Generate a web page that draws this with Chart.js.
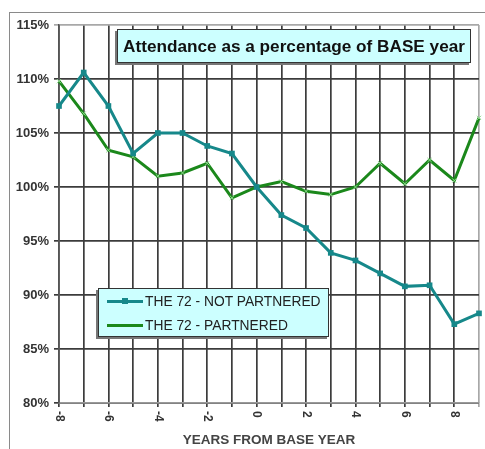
<!DOCTYPE html>
<html lang="en">
<head>
  <meta charset="UTF-8" />
  <title>Attendance vs Base Year</title>
  <script src="https://cdn.jsdelivr.net/npm/chart.js"></script>
  <style>
    body {
      margin: 0;
      padding: 0;
      background: white;
      overflow: hidden;
      font-family: 'Liberation Sans', Arial, sans-serif;
    }

    .wrap {
      position: relative;
      width: 485px;
      height: 449px;
    }

    .frame {
      position: absolute;
      left: 9px;
      top: 12px;
      width: 500px;
      height: 500px;
      border-left: 1px solid #8a8a8a;
      border-top: 1px solid #8a8a8a;
    }

    canvas { position: absolute; left: 0; top: 0; }

    .title-box {
      position: absolute;
      left: 117px;
      top: 29px;
      width: 352px;
      height: 32px;
      background: #ccffff;
      border: 1px solid #333;
      box-shadow: -2px 2px 0 #777;
      font-size: 17.2px;
      font-weight: bold;
      color: #111;
      line-height: 32px;
      text-align: center;
      white-space: nowrap;
    }

    .legend-box {
      position: absolute;
      left: 98px;
      top: 288px;
      width: 229px;
      height: 47px;
      background: #ccffff;
      border: 1px solid #333;
      box-shadow: -2px 2px 0 #777;
      font-size: 13.8px;
      color: #222;
    }

    .legend-row {
      position: absolute;
      left: 8px;
      height: 16px;
      display: flex;
      align-items: center;
      white-space: nowrap;
    }

    .swatch {
      position: relative;
      width: 36px;
      height: 3px;
      margin-right: 2px;
    }

    .swatch i {
      position: absolute;
      left: 15px;
      top: -2px;
      width: 6px;
      height: 6px;
    }
  </style>
</head>
<body>
  <div class="wrap">
    <div class="frame"></div>
    <canvas id="attendChart" width="485" height="449"></canvas>
    <div class="title-box">Attendance as a percentage of BASE year</div>
    <div class="legend-box" id="legend"></div>
  </div>

  <script>
    const years = [-8, -7, -6, -5, -4, -3, -2, -1, 0, 1, 2, 3, 4, 5, 6, 7, 8, 9];
    const notPartnered = [107.5, 110.6, 107.5, 103.1, 105.0, 105.0, 103.8, 103.1, 100.0, 97.4, 96.2, 93.9, 93.2, 92.0, 90.8, 90.9, 87.3, 88.3];
    const partnered = [109.8, 106.8, 103.4, 102.8, 101.0, 101.3, 102.2, 99.0, 100.0, 100.5, 99.6, 99.3, 100.0, 102.2, 100.3, 102.5, 100.6, 106.4];
    const seriesNames = ['THE 72 - NOT PARTNERED', 'THE 72 - PARTNERED'];
    const seriesColors = ['#16888a', '#1b881b'];
    const yTicks = [80, 85, 90, 95, 100, 105, 110, 115];

    const toPoints = vals => years.map((yr, i) => ({ x: yr, y: vals[i] }));

    // x tick labels are drawn turned clockwise, like the original
    const xLabels = {
      id: 'xLabels',
      afterDraw(chart) {
        const scale = chart.scales.x;
        const ctx = chart.ctx;
        ctx.save();
        ctx.font = 'bold 12px "Liberation Sans", Arial, sans-serif';
        ctx.fillStyle = '#333';
        ctx.textAlign = 'left';
        ctx.textBaseline = 'middle';
        scale.ticks.forEach(t => {
          if (t.value % 2 !== 0) return;
          const x = scale.getPixelForValue(t.value);
          ctx.save();
          ctx.translate(x, chart.chartArea.bottom + 8);
          ctx.rotate(Math.PI / 2);
          ctx.fillText(String(t.value), 0, 0);
          ctx.restore();
        });
        ctx.restore();
      }
    };

    new Chart(document.getElementById('attendChart'), {
      type: 'line',
      data: {
        datasets: [
          {
            label: seriesNames[0],
            data: toPoints(notPartnered),
            borderColor: seriesColors[0],
            backgroundColor: seriesColors[0],
            borderWidth: 3,
            pointStyle: 'rect',
            pointRadius: 4,
            pointBorderWidth: 0,
            tension: 0,
            clip: false
          },
          {
            label: seriesNames[1],
            data: toPoints(partnered),
            borderColor: seriesColors[1],
            backgroundColor: '#7fcf7f',
            borderWidth: 3,
            pointStyle: 'crossRot',
            pointRadius: 3,
            pointBorderColor: '#8fd88f',
            pointBorderWidth: 1,
            tension: 0,
            clip: false
          }
        ]
      },
      options: {
        responsive: false,
        animation: false,
        devicePixelRatio: 1,
        layout: { padding: { top: 25, right: 6, left: 0, bottom: 0 } },
        plugins: {
          legend: { display: false },
          tooltip: { enabled: false }
        },
        scales: {
          x: {
            type: 'linear',
            min: years[0],
            max: years[years.length - 1],
            afterFit: s => { s.height = 46; },
            ticks: {
              stepSize: 1,
              display: false
            },
            grid: {
              color: c => c.tick && c.tick.value === years[years.length - 1] ? '#a8a8a8' : '#3c3c3c',
              lineWidth: 1.7,
              tickLength: 4
            },
            border: { color: '#999', width: 1.6 },
            title: {
              display: true,
              text: 'YEARS FROM BASE YEAR',
              color: '#444',
              font: { family: '"Liberation Sans", Arial, sans-serif', size: 13.5, weight: 'bold' },
              padding: { top: 0, bottom: 1 }
            }
          },
          y: {
            min: yTicks[0],
            max: yTicks[yTicks.length - 1],
            afterFit: s => { s.width = 59; },
            afterBuildTicks: s => { s.ticks = yTicks.map(v => ({ value: v })); },
            ticks: {
              callback: v => v + '%',
              color: '#333',
              padding: 5,
              font: { family: '"Liberation Sans", Arial, sans-serif', size: 13, weight: 'bold' }
            },
            grid: {
              color: c => c.tick && c.tick.value === yTicks[yTicks.length - 1] ? '#a8a8a8' : '#3c3c3c',
              lineWidth: 1.7,
              tickLength: 5
            },
            border: { color: '#555', width: 1.6 }
          }
        }
      },
      plugins: [xLabels]
    });

    // legend built from the series names and colours
    const legend = document.getElementById('legend');
    seriesNames.forEach((name, i) => {
      const row = document.createElement('div');
      row.className = 'legend-row';
      row.style.top = (4 + i * 24) + 'px';
      const sw = document.createElement('span');
      sw.className = 'swatch';
      sw.style.background = seriesColors[i];
      const mk = document.createElement('i');
      mk.style.background = i === 0 ? seriesColors[0] : 'transparent';
      sw.appendChild(mk);
      row.appendChild(sw);
      row.appendChild(document.createTextNode(name));
      legend.appendChild(row);
    });
  </script>
</body>
</html>
